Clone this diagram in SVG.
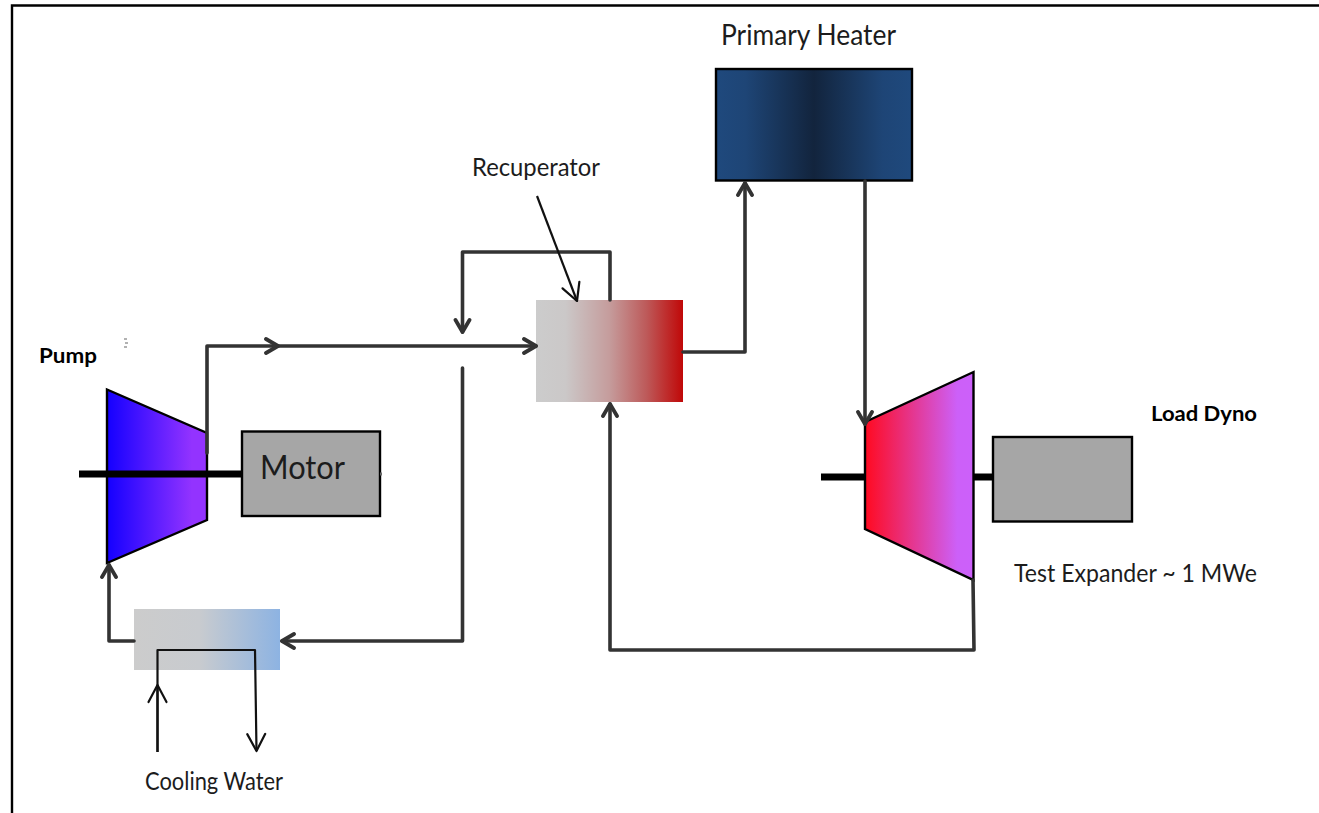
<svg xmlns="http://www.w3.org/2000/svg" width="1319" height="813" viewBox="0 0 1319 813">
<style>
.lbl{font-family:"Lato","Liberation Sans",sans-serif;fill:#1c1c1c}
.bold{font-family:"Lato","Liberation Sans",sans-serif;font-weight:700;fill:#000}
.pipe{fill:none;stroke:#333;stroke-width:3.6;stroke-linejoin:round;stroke-linecap:round}
.thin{fill:none;stroke:#111;stroke-width:2.2;stroke-linejoin:round}
.box{stroke:#000;stroke-width:2.4}
.shaft{stroke:#000;stroke-width:7}
</style>
<defs>
<linearGradient id="gPump"><stop offset="0" stop-color="#1400ff"/><stop offset="0.85" stop-color="#9333ff"/><stop offset="1" stop-color="#9333ff"/></linearGradient>
<linearGradient id="gExp"><stop offset="0" stop-color="#ff0a20"/><stop offset="0.85" stop-color="#cc60f8"/><stop offset="1" stop-color="#cc60fa"/></linearGradient>
<linearGradient id="gHeat"><stop offset="0" stop-color="#1f497d"/><stop offset="0.15" stop-color="#1e4576"/><stop offset="0.5" stop-color="#12243d"/><stop offset="0.85" stop-color="#1e4576"/><stop offset="1" stop-color="#1f497d"/></linearGradient>
<linearGradient id="gRec"><stop offset="0" stop-color="#cccccc"/><stop offset="0.2" stop-color="#cbc8c8"/><stop offset="0.5" stop-color="#c59c9c"/><stop offset="0.75" stop-color="#bd5a5a"/><stop offset="1" stop-color="#c00808"/></linearGradient>
<linearGradient id="gCool"><stop offset="0" stop-color="#cccccc"/><stop offset="0.45" stop-color="#c8cbcf"/><stop offset="1" stop-color="#8db3e2"/></linearGradient>
<marker id="a" markerUnits="userSpaceOnUse" viewBox="-16 -10 18 20" refX="0" refY="0" markerWidth="18" markerHeight="20" orient="auto"><path d="M-12,-7 L0,0 L-12,7" fill="none" stroke="#333" stroke-width="3.8" stroke-linecap="round" stroke-linejoin="round"/></marker>
<marker id="b" markerUnits="userSpaceOnUse" viewBox="-20 -11 22 22" refX="0" refY="0" markerWidth="22" markerHeight="22" orient="auto"><path d="M-17,-9 L0,0 L-17,9" fill="none" stroke="#111" stroke-width="2.2" stroke-linecap="round" stroke-linejoin="round"/></marker>
</defs>
<rect width="1319" height="813" fill="#fff"/>
<path d="M12,813 V5.500 H1319" fill="none" stroke="#000" stroke-width="2.400"/>
<path d="M124,339 h3 M125,343 h3 M124,347 h3" stroke="#999" stroke-width="1.500" fill="none"/>

<g id="recuperator"><rect x="536" y="300" width="147" height="102" fill="url(#gRec)"/></g>
<g id="cooler"><rect x="134" y="609" width="146" height="61" fill="url(#gCool)"/></g>

<g id="pump">
<path class="box" d="M107,389.500 L207,433 V520 L107,563 Z" fill="url(#gPump)"/>
</g>
<g id="motor">
<rect class="box" x="242" y="431.500" width="138" height="84.500" fill="#a6a6a6"/>
<line x1="380" y1="474" x2="382" y2="474" stroke="#666" stroke-width="3"/>
<text class="lbl" x="260" y="479" font-size="33" textLength="85" lengthAdjust="spacingAndGlyphs">Motor</text>
</g>
<g id="shafts">
<line class="shaft" x1="79" y1="474" x2="242" y2="474"/>
<line class="shaft" x1="821" y1="477" x2="865" y2="477"/>
<line class="shaft" x1="974" y1="477" x2="993" y2="477"/>
</g>
<g id="expander">
<path class="box" d="M865,422 L973.500,372 V580 L865,529 Z" fill="url(#gExp)"/>
</g>
<g id="load-dyno">
<rect class="box" x="993" y="437" width="139" height="84.500" fill="#a6a6a6"/>
</g>
<g id="heater">
<rect class="box" x="716" y="69" width="196" height="111.500" fill="url(#gHeat)"/>
</g>

<g id="connectors">
<path class="pipe" d="M207,453 V346 H278" marker-end="url(#a)"/>
<path class="pipe" d="M278,346 H536" marker-end="url(#a)"/>
<path class="pipe" d="M610,300 V252 H462.500 V332" marker-end="url(#a)"/>
<path class="pipe" d="M462.500,368 V641 H282" marker-end="url(#a)"/>
<path class="pipe" d="M134,641 H109 V565" marker-end="url(#a)"/>
<path class="pipe" d="M683,352 H745 V183" marker-end="url(#a)"/>
<path class="pipe" d="M865,181 V424" marker-end="url(#a)"/>
<path class="pipe" d="M973,580 L974,650 H610 V404" marker-end="url(#a)"/>
<path class="thin" d="M537,196 L577,301" marker-end="url(#b)"/>
<path class="thin" d="M157.500,752 V650 H255 L256.500,751" marker-end="url(#b)"/>
<path class="thin" d="M157.500,752 V685" marker-end="url(#b)"/>
</g>

<g id="labels">
<text class="lbl" x="721" y="45" font-size="29" textLength="175" lengthAdjust="spacingAndGlyphs">Primary Heater</text>
<text class="lbl" x="472" y="176" font-size="25.500" textLength="128" lengthAdjust="spacingAndGlyphs">Recuperator</text>
<text class="bold" x="39" y="363" font-size="21" textLength="58" lengthAdjust="spacingAndGlyphs">Pump</text>
<text class="bold" x="1151" y="421" font-size="21" textLength="106" lengthAdjust="spacingAndGlyphs">Load Dyno</text>
<text class="lbl" x="1014" y="582" font-size="25.500" textLength="243" lengthAdjust="spacingAndGlyphs">Test Expander ~ 1 MWe</text>
<text class="lbl" x="145" y="790" font-size="25" textLength="138" lengthAdjust="spacingAndGlyphs">Cooling Water</text>
</g>
</svg>
